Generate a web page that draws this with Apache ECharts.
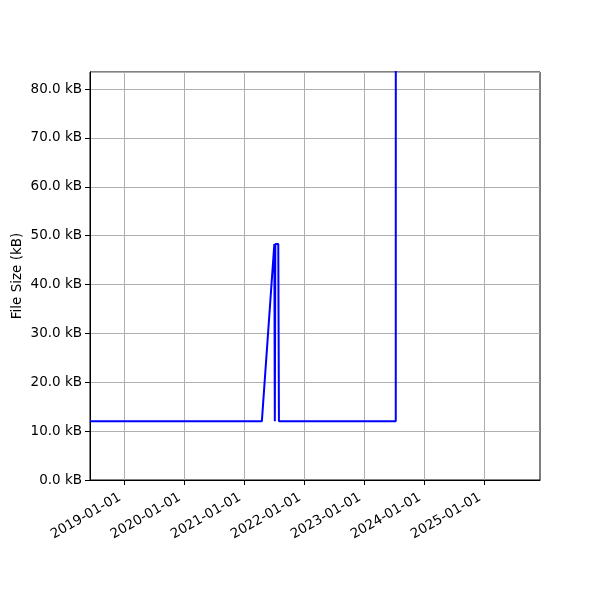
<!DOCTYPE html>
<html><head><meta charset="utf-8">
<script src="https://cdn.jsdelivr.net/npm/echarts@6/dist/echarts.min.js"></script>
<style>html,body{margin:0;padding:0;background:#fff}#c{width:600px;height:600px}</style>
</head><body><div id="c"></div>
<script>
const dates = ['2018-06-07','2021-04-18','2021-07-03','2021-07-06','2021-07-09','2021-07-27','2021-07-31','2023-07-12','2023-07-13'];
const sizesKB = [12.0, 12.0, 48.3, 12.0, 48.3, 48.3, 12.0, 12.0, 250];
const xTickLabels = ['2019-01-01','2020-01-01','2021-01-01','2022-01-01','2023-01-01','2024-01-01','2025-01-01'];
const xMin = '2018-06-07', xMax = '2025-12-06';
const yMax = 83.5;

const ts = s => Date.parse(s + 'T00:00:00Z');
const tickVals = xTickLabels.map(ts);
const chart = echarts.init(document.getElementById('c'), null, {renderer:'canvas'});
const font = 'DejaVu Sans';
const fs = 13.5;
const fmt = v => { const d = new Date(v); return d.getUTCFullYear() + '-' + String(d.getUTCMonth()+1).padStart(2,'0') + '-' + String(d.getUTCDate()).padStart(2,'0'); };
chart.setOption({
  animation: false,
  grid: {left: 90, right: 60, top: 72, bottom: 120, containLabel: false, outerBoundsMode: 'none', show: true, borderColor: '#000', borderWidth: 1, backgroundColor: 'transparent'},
  xAxis: {
    type: 'value', min: ts(xMin), max: ts(xMax),
    axisLine: {show: true, onZero: false, lineStyle: {color: '#000', width: 1}},
    axisTick: {show: true, inside: false, length: 5, customValues: tickVals, lineStyle: {color: '#000'}},
    axisLabel: {customValues: tickVals, rotate: 30, color: '#000', fontFamily: font, fontSize: fs, margin: 14, padding: [0, 5, 0, 0], formatter: fmt},
    splitLine: {show: true, lineStyle: {color: '#b0b0b0', width: 1}}
  },
  yAxis: {
    type: 'value', min: 0, max: yMax, interval: 10,
    name: 'File Size (kB)', nameLocation: 'middle', nameGap: 66, nameRotate: 90, nameMoveOverlap: false,
    nameTextStyle: {color: '#000', fontFamily: font, fontSize: fs},
    axisLine: {show: true, lineStyle: {color: '#000', width: 1}},
    axisTick: {show: true, inside: false, length: 5, lineStyle: {color: '#000'}},
    axisLabel: {color: '#000', fontFamily: font, fontSize: fs, margin: 8, showMaxLabel: false, formatter: v => v.toFixed(1) + ' kB'},
    splitLine: {show: true, lineStyle: {color: '#b0b0b0', width: 1}}
  },
  series: [{
    type: 'line', clip: true, showSymbol: false, symbol: 'none',
    lineStyle: {color: '#0000ff', width: 2},
    data: dates.map((d, i) => [ts(d), sizesKB[i]])
  }]
});
</script></body></html>
